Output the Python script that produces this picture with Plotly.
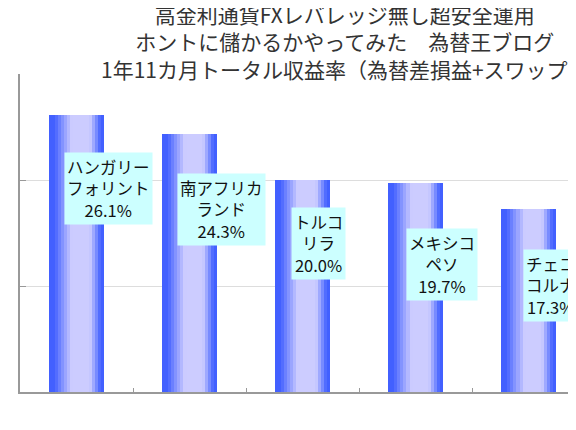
import plotly.graph_objects as go

# データ
currencies = ["ハンガリーフォリント", "南アフリカランド", "トルコリラ", "メキシコペソ", "チェコルナ"]
label_lines = [["ハンガリー", "フォリント"], ["南アフリカ", "ランド"], ["トルコ", "リラ"],
               ["メキシコ", "ペソ"], ["チェコ", "コルナ"]]
returns = [26.1, 24.3, 20.0, 19.7, 17.3]
y_ticks = [0, 10, 20, 30]

title_lines = ["高金利通貨FXレバレッジ無し超安全運用",
               "ホントに儲かるかやってみた　為替王ブログ",
               "1年11カ月トータル収益率（為替差損益+スワップ）"]

# ラベル位置（棒の中心・上端からのずれ, px）
label_shift = [(-13, -37), (-13, -39), (-12, -27), (-10, -45), (-6, -40)]

BAR_W = 0.48
N_SLICES = 18
BLUE = (66, 96, 255)
LIGHT = (204, 204, 255)


def shade(t):
    # 横方向グラデーション：端は青、中央やや右が淡い
    if t < 0.1:
        a = 0.0
    elif t < 0.42:
        a = (t - 0.1) / 0.32
    elif t < 0.74:
        a = 1.0
    elif t < 0.94:
        a = 1 - (t - 0.74) / 0.2
    else:
        a = 0.0
    c = [round(BLUE[k] + (LIGHT[k] - BLUE[k]) * a) for k in range(3)]
    return f"rgb({c[0]},{c[1]},{c[2]})"


fig = go.Figure()

# ── グラデーション棒（細い棒を重ねる） ──────────────
step = BAR_W / N_SLICES
for i in range(N_SLICES):
    t = (i + 0.5) / N_SLICES
    fig.add_trace(go.Bar(
        x=currencies, y=returns,
        width=step * 1.05,
        offset=-BAR_W / 2 + i * step,
        marker=dict(color=shade(t), line=dict(width=0)),
        hoverinfo="skip",
        showlegend=False,
    ))

# ── データラベル ─────────────────────────────
for cur, lines, val, (dx, dy) in zip(currencies, label_lines, returns, label_shift):
    fig.add_annotation(
        x=cur, y=val, xref="x", yref="y",
        text="<br>".join(lines + [f"{val:.1f}%"]),
        showarrow=False,
        xanchor="left", yanchor="top",
        xshift=dx, yshift=dy,
        align="center",
        bgcolor="#CCFFFF",
        borderpad=2,
        font=dict(family="Noto Sans CJK JP", size=16.5, color="#111"),
    )

# ── タイトル ─────────────────────────────────
fig.add_annotation(
    text="<br>".join(title_lines),
    xref="paper", yref="paper",
    x=0.5845, y=1.102,
    xanchor="center", yanchor="middle",
    showarrow=False,
    align="center",
    font=dict(family="Noto Sans CJK JP", size=21, color="#333"),
)

# ページ本体の余白(8px)を見込んだ余白設定
fig.update_layout(
    template="none",
    width=576, height=430,
    barmode="overlay",
    bargap=0,
    plot_bgcolor="white",
    paper_bgcolor="white",
    margin=dict(l=12, r=8, t=66, b=46),
    xaxis=dict(
        type="category",
        range=[-0.5, 4.42],
        showticklabels=False,
        ticks="inside", tickson="boundaries", ticklen=4,
        tickcolor="#999",
        showline=True, linecolor="#999", linewidth=1.5,
        showgrid=False, zeroline=False,
        automargin=False,
    ),
    yaxis=dict(
        range=[0, 30],
        tickvals=y_ticks,
        ticksuffix="%",
        ticks="inside", ticklen=6, tickcolor="#999",
        ticklabelstandoff=16,
        tickfont=dict(family="Noto Sans CJK JP", size=13, color="#333"),
        showline=True, linecolor="#999", linewidth=1.5,
        showgrid=True, gridcolor="#DDDDDD", gridwidth=1,
        zeroline=False,
        automargin=False,
    ),
)

fig.write_html("out.html")
